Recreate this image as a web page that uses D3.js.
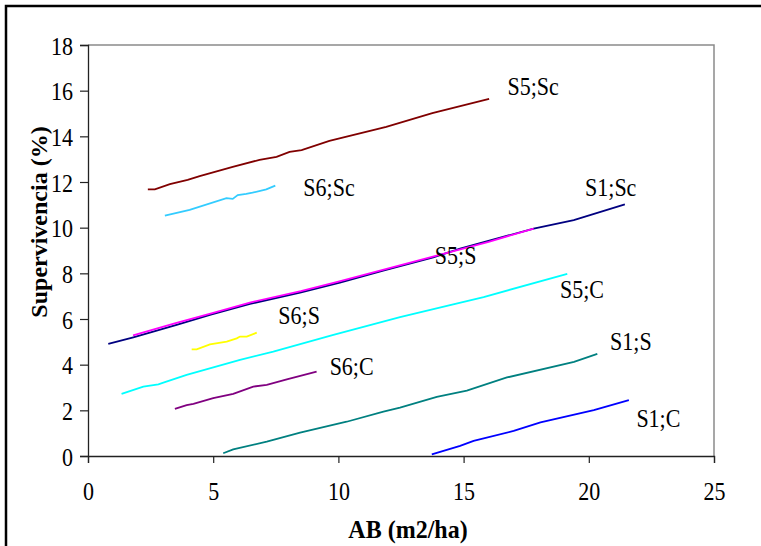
<!DOCTYPE html>
<html>
<head>
<meta charset="utf-8">
<script src="https://cdn.jsdelivr.net/npm/d3@7"></script>
<style>
  body { margin: 0; background: #fff; }
  svg text { font-family: 'Liberation Serif', 'Times New Roman', serif; }
</style>
</head>
<body>
<script>
// Series values: [AB (m2/ha), Supervivencia (%)]
const s5Sc = [[2.39, 11.68], [2.67, 11.68], [3.27, 11.91], [3.98, 12.09], [4.46, 12.26], [5.78, 12.66], [6.85, 12.97], [7.53, 13.1], [8.05, 13.32], [8.53, 13.4], [9.64, 13.8], [11.91, 14.41], [13.75, 15.02], [16.02, 15.64]]
const s6Sc = [[3.07, 10.53], [4.06, 10.78], [5.53, 11.29], [5.78, 11.26], [5.98, 11.43], [6.32, 11.48], [6.57, 11.53], [7.12, 11.68], [7.48, 11.84]]
const s1Sc = [[0.81, 4.91], [1.81, 5.2], [3.54, 5.74], [4.87, 6.18], [6.47, 6.66], [8.47, 7.15], [10.06, 7.59], [11.79, 8.12], [13.79, 8.7], [14.86, 9.08], [17.8, 9.96], [19.4, 10.33], [21.44, 11.02]]
const s5S = [[1.8, 5.28], [3.5, 5.82], [5, 6.27], [6.5, 6.73], [8.5, 7.22], [10, 7.64], [12, 8.22], [14, 8.8], [16, 9.38], [17.8, 9.96]]
const s6S = [[4.14, 4.67], [4.34, 4.67], [4.87, 4.89], [5.54, 5.01], [5.94, 5.15], [6.07, 5.23], [6.34, 5.23], [6.74, 5.4]]
const s5C = [[1.34, 2.72], [2.21, 3.04], [2.81, 3.14], [3.01, 3.21], [3.94, 3.55], [6.07, 4.21], [7.4, 4.57], [9.8, 5.3], [12.46, 6.08], [14.46, 6.61], [15.8, 6.96], [19.14, 7.98]]
const s6C = [[3.47, 2.06], [3.94, 2.23], [4.21, 2.28], [5.0, 2.53], [5.8, 2.72], [6.6, 3.04], [7.14, 3.11], [7.94, 3.36], [9.13, 3.69]]
const s1S = [[5.4, 0.12], [5.8, 0.29], [7.14, 0.63], [8.47, 1.02], [10.33, 1.5], [11.8, 1.94], [12.46, 2.12], [13.93, 2.59], [15.13, 2.86], [16.73, 3.44], [19.41, 4.12], [20.34, 4.47]]
const s1C = [[13.73, 0.07], [14.86, 0.44], [15.4, 0.66], [17.0, 1.1], [18.07, 1.47], [20.2, 2.01], [21.6, 2.45]]

const seriesNames = ['S5;Sc', 'S6;Sc', 'S1;Sc', 'S5;S', 'S6;S', 'S5;C', 'S6;C', 'S1;S', 'S1;C']
const seriesValues = [s5Sc, s6Sc, s1Sc, s5S, s6S, s5C, s6C, s1S, s1C]
const seriesColors = ['#800000', '#33ccff', '#000080', '#ff00ff', '#ffff00', '#00ffff', '#800080', '#008080', '#0000ff']
// label anchor (data units) for each series name
const labelAnchors = [[16.75, 15.8], [8.6, 11.4], [19.85, 11.4], [13.85, 8.4], [7.6, 5.8], [18.85, 6.9], [9.65, 3.55], [20.85, 4.65], [21.9, 1.25]]

const xTicks = [0, 5, 10, 15, 20, 25]
const yTicks = [0, 2, 4, 6, 8, 10, 12, 14, 16, 18]

const width = 761
const height = 546
const margin = {left: 88, right: 47, top: 45, bottom: 90}
const stretch = 1.17 // the source picture is a little taller than wide
const serif = "'Liberation Serif', 'Times New Roman', serif"

const svg = d3.select('body').append('svg')
    .attr('width', width)
    .attr('height', height)

const x = d3.scaleLinear().domain([0, 25]).range([margin.left, width - margin.right])
const y = d3.scaleLinear().domain([0, 18]).range([height - margin.bottom, margin.top])

// outer frame, only left and top edges show
svg.append('rect')
    .attr('x', 6).attr('y', 6)
    .attr('width', 900).attr('height', 900)
    .attr('fill', 'none')
    .attr('stroke', '#000')
    .attr('stroke-width', 2.5)

// plot area border (top and right in gray)
svg.append('path')
    .attr('d', `M${x(0)},${y(18)}H${x(25)}V${y(0)}`)
    .attr('fill', 'none')
    .attr('stroke', '#8a8a8a')
    .attr('stroke-width', 1.5)

// axes
const xAxis = svg.append('g')
    .attr('transform', `translate(0,${y(0)})`)
    .call(d3.axisBottom(x).tickValues(xTicks).tickSize(7))
const yAxis = svg.append('g')
    .attr('transform', `translate(${x(0)},0)`)
    .call(d3.axisLeft(y).tickValues(yTicks).tickSize(8))

;[xAxis, yAxis].forEach(g => {
  g.attr('font-family', null).attr('font-size', null)
  g.select('.domain').attr('stroke', '#222').attr('stroke-width', 1.3)
  g.selectAll('.tick line').attr('stroke', '#222').attr('stroke-width', 1.2)
  g.selectAll('.tick text')
    .style('font-family', serif)
    .style('font-size', '22px')
    .attr('fill', '#000')
})
xAxis.selectAll('.tick text')
    .attr('y', 0).attr('dy', 0)
    .attr('transform', `translate(0,44) scale(1,${stretch})`)
yAxis.selectAll('.tick text')
    .attr('x', 0).attr('dy', 0)
    .attr('transform', `translate(-15,9) scale(1,${stretch})`)

// lines
const line = d3.line().x(d => x(d[0])).y(d => y(d[1]))

svg.selectAll('path.serie')
  .data(seriesValues)
  .enter()
  .append('path')
  .attr('class', 'serie')
  .attr('d', line)
  .attr('fill', 'none')
  .attr('stroke', (d, i) => seriesColors[i])
  .attr('stroke-width', 1.8)

// series labels
svg.selectAll('text.label')
  .data(seriesNames)
  .enter()
  .append('text')
  .attr('class', 'label')
  .attr('transform', (d, i) => `translate(${x(labelAnchors[i][0])},${y(labelAnchors[i][1])}) scale(1,${stretch})`)
  .style('font-family', serif)
  .style('font-size', '22px')
  .text(d => d)

// axis titles
svg.append('text')
    .attr('transform', `translate(408,538) scale(1,1.08)`)
    .attr('text-anchor', 'middle')
    .style('font-family', serif)
    .style('font-weight', 'bold')
    .style('font-size', '24px')
    .text('AB (m2/ha)')

svg.append('text')
    .attr('transform', 'translate(47,222) rotate(-90)')
    .attr('text-anchor', 'middle')
    .style('font-family', serif)
    .style('font-weight', 'bold')
    .style('font-size', '24px')
    .text('Supervivencia (%)')
</script>
</body>
</html>
